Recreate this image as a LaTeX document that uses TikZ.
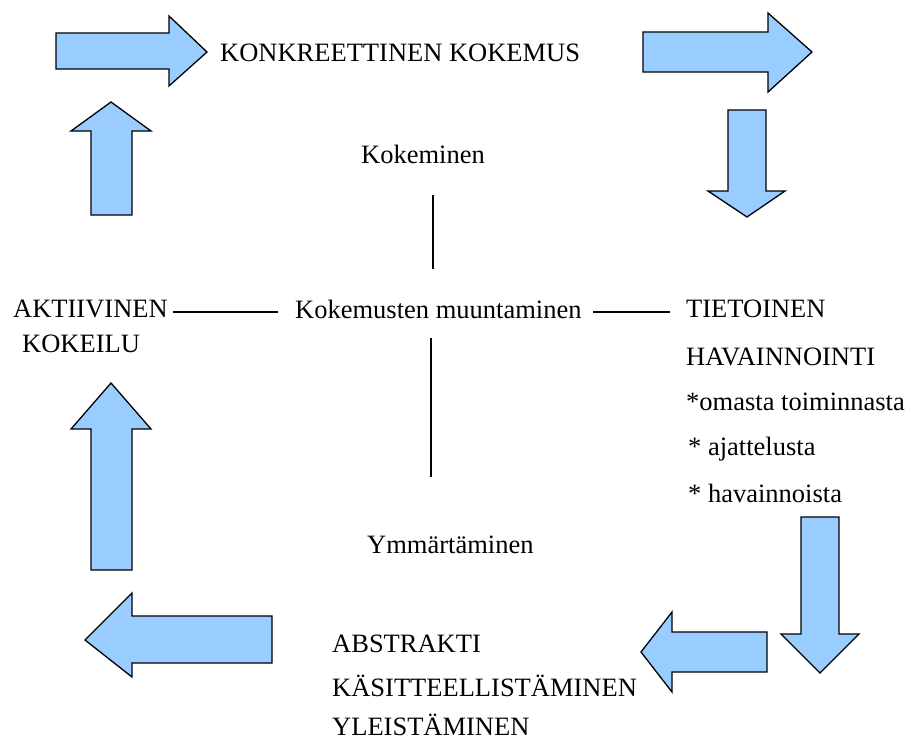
\documentclass[tikz,border=0pt]{standalone}
\usepackage{fontspec}
\setmainfont{Liberation Serif}
\definecolor{arrowblue}{HTML}{99CCFF}
\begin{document}
\begin{tikzpicture}[x=1pt,y=-1pt,
  blockarrow/.style={draw=black,fill=arrowblue,line width=1.3pt,line join=miter},
  lbl/.style={anchor=base west,inner sep=0pt,font=\fontsize{26.5}{30}\selectfont},
  thinline/.style={draw=black,line width=1.2pt}]
\useasboundingbox (0,0) rectangle (909,742);
% block arrows
\draw[blockarrow] (56,33) -- (169,33) -- (169,16) -- (207,52) -- (169,86) -- (169,69) -- (56,69) -- cycle;
\draw[blockarrow] (643,32) -- (768,32) -- (768,13) -- (812,52) -- (768,92) -- (768,72) -- (643,72) -- cycle;
\draw[blockarrow] (728,110) -- (766,110) -- (766,191) -- (785,191) -- (747,217) -- (708,191) -- (728,191) -- cycle;
\draw[blockarrow] (801,517) -- (839,517) -- (839,634) -- (859,634) -- (820,673) -- (781,634) -- (801,634) -- cycle;
\draw[blockarrow] (767,632) -- (672,632) -- (672,612) -- (641,652) -- (672,692) -- (672,672) -- (767,672) -- cycle;
\draw[blockarrow] (272,616) -- (132,616) -- (132,593) -- (85,640) -- (132,677) -- (132,663) -- (272,663) -- cycle;
\draw[blockarrow] (91,570) -- (91,429) -- (71,429) -- (111,383) -- (151,429) -- (132,429) -- (132,570) -- cycle;
\draw[blockarrow] (91,215) -- (91,131) -- (71,131) -- (111,102) -- (151,131) -- (132,131) -- (132,215) -- cycle;
% texts
\node[lbl] (konk) at (220,61) {KONKREETTINEN KOKEMUS};
\node[lbl] (kok) at (361,163) {Kokeminen};
\node[lbl] (muun) at (295,318) {Kokemusten muuntaminen};
\node[lbl] (akt) at (13,317) {AKTIIVINEN};
\node[lbl] (kokeilu) at (22,352) {KOKEILU};
\node[lbl] (tiet) at (686,317) {TIETOINEN};
\node[lbl] (hav) at (686,365) {HAVAINNOINTI};
\node[lbl] (om) at (686,410) {*omasta toiminnasta};
\node[lbl] (aj) at (688,455) {* ajattelusta};
\node[lbl] (havs) at (688,502) {* havainnoista};
\node[lbl] (ymm) at (367,553) {Ymmärtäminen};
\node[lbl] (abs) at (332,652) {ABSTRAKTI};
\node[lbl] (kas) at (332,696) {KÄSITTEELLISTÄMINEN};
\node[lbl] (yle) at (332,735) {YLEISTÄMINEN};
% connector lines
\coordinate (l1a) at (173,312); \coordinate (l1b) at (278,312);
\coordinate (l2a) at (593,312); \coordinate (l2b) at (670,312);
\coordinate (v1a) at (433,195); \coordinate (v1b) at (433,269);
\coordinate (v2a) at (431,338); \coordinate (v2b) at (431,477);
\draw[thinline] (l1a) -- (l1b);
\draw[thinline] (l2a) -- (l2b);
\draw[thinline] (v1a) -- (v1b);
\draw[thinline] (v2a) -- (v2b);
\end{tikzpicture}
\end{document}
